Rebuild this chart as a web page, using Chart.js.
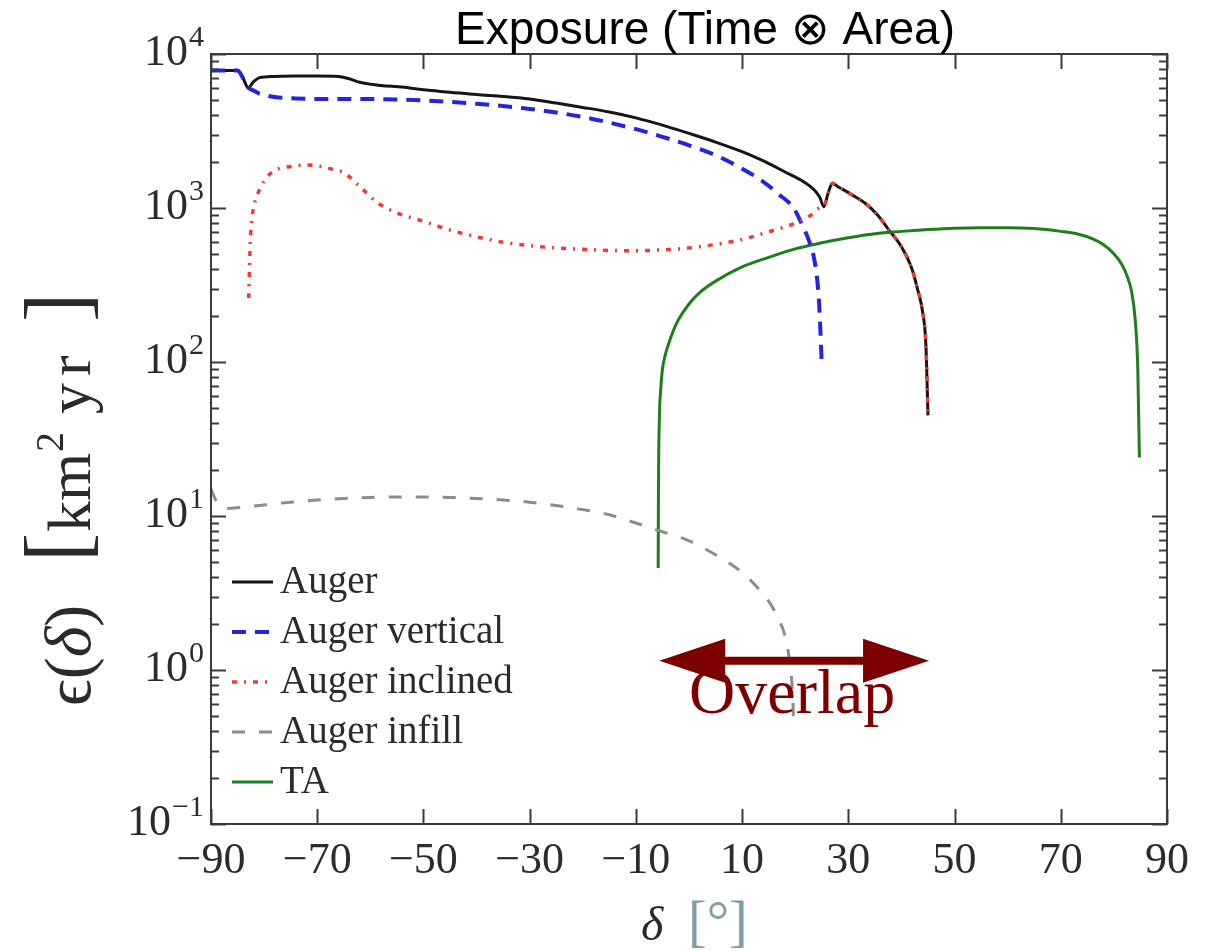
<!DOCTYPE html>
<html>
<head>
<meta charset="utf-8">
<title>Exposure (Time ⊗ Area)</title>
<script src="https://cdn.jsdelivr.net/npm/chart.js@4/dist/chart.umd.min.js"></script>
<style>
  html, body { margin: 0; padding: 0; background: #ffffff; }
  #wrap { width: 1212px; height: 951px; }
</style>
</head>
<body>
<div id="wrap"><canvas id="c" width="1212" height="951"></canvas></div>
<script>
// Declination grid (degrees) and exposure (km^2 yr) for each observatory curve
const augerDec = [-90,-85,-84,-83,-82,-81,-78,-74,-70,-66,-64,-62,-58,-54,-50,-45,-40,-35,-30,-25,-20,-15,-10,-5,0,5,10,14,18,21.6,23.5,24.6,25.4,26.2,27,28,30.4,33.3,35.5,37.5,40,42,43,44,44.6,45];
const augerVal = [7800,7800,7000,6050,6600,7000,7150,7200,7200,7150,6900,6550,6250,6100,5850,5650,5450,5300,5100,4800,4500,4200,3850,3450,3050,2680,2320,2020,1720,1480,1320,1180,1020,1250,1450,1380,1235,1065,900,730,560,400,300,210,130,45];

const verticalDec = [-90,-85,-84,-83,-82,-81,-78,-74,-70,-60,-50,-40,-30,-20,-10,-5,0,5,10,14,17,19.7,21,22.6,23.5,24.1,24.5,25];
const verticalVal = [7800,7800,7000,6050,5800,5550,5250,5150,5100,5100,5000,4750,4400,3900,3250,2900,2550,2200,1800,1480,1220,1000,820,612,480,352,240,98];

const inclinedDec = [-82.9,-82.6,-82.2,-81.2,-80,-78,-75,-72,-70,-67,-65,-62,-58.6,-55,-50,-45,-40,-35,-30,-25,-20,-15,-10,-5,0,5,10,15,19.7,23,24.6,25.4,26.2,27,28,30.4,33.3,35.5,37.5,40,42,43,44,44.6,45];
const inclinedVal = [260,600,900,1230,1500,1750,1860,1900,1880,1780,1700,1380,1080,930,820,720,650,600,570,550,540,530,528,535,550,580,625,700,790,900,1000,1020,1250,1450,1380,1235,1065,900,730,560,400,300,210,130,45];

const infillDec = [-90,-89,-87,-85,-80,-75,-70,-65,-60,-55,-50,-45,-40,-35,-30,-25,-20,-15,-10,-5,0,5,10,13,15,17,18,19,19.5,19.7];
const infillVal = [15,12.5,11.2,11.3,11.8,12.3,12.7,13,13.2,13.3,13.3,13.2,13,12.7,12.3,11.7,11,10.2,9,7.9,6.9,5.6,4.3,3.4,2.8,2.1,1.7,1.1,0.7,0.45];

const taDec = [-5.8,-5.75,-5.6,-5.3,-5,-4.5,-4,-3,-2,0,2,5,10,15,20,25,30,35,40,45,50,55,60,65,70,73,76,78,80,81.5,82.5,83.3,84,84.5,84.8];
const taVal = [4.6,15,40,68,90,110,126,158,188,238,282,335,415,478,543,594,640,680,705,725,740,745,745,735,705,680,630,580,505,430,360,290,190,90,24];

// Axis ticks
const xTickValues = [-90,-70,-50,-30,-10,10,30,50,70,90];
const xTickLabels = ['\u221290','\u221270','\u221250','\u221230','\u221210','10','30','50','70','90'];
const yTickPowers = [-1,0,1,2,3,4];
const yTickExpLabels = ['\u22121','0','1','2','3','4'];

// Overlap band between the two hemispheres' coverage
const overlapFrom = -5.6;
const overlapTo = 45.2;
const overlapLevel = 1.15;

const seriesLabels = ['Auger','Auger vertical','Auger inclined','Auger infill','TA'];

function pts(xs, ys) { return xs.map((x, i) => ({ x: x, y: ys[i] })); }

const SERIF = '"Liberation Serif", "DejaVu Serif", serif';

const decor = {
  id: 'decor',
  afterDatasetsDraw(chart) {
    const ctx = chart.ctx;
    const a = chart.chartArea;
    const xs = chart.scales.x, ys = chart.scales.y;
    ctx.save();

    // frame
    ctx.strokeStyle = '#3a3a3a';
    ctx.lineWidth = 2;
    ctx.strokeRect(a.left, a.top, a.right - a.left, a.bottom - a.top);

    // x ticks (inward, bottom and top)
    ctx.beginPath();
    xTickValues.forEach(v => {
      const px = Math.round(xs.getPixelForValue(v)) + 0.5;
      ctx.moveTo(px, a.bottom); ctx.lineTo(px, a.bottom - 15);
      ctx.moveTo(px, a.top); ctx.lineTo(px, a.top + 15);
    });
    ctx.stroke();

    // y ticks: major at decades, minor at 2..9
    ctx.beginPath();
    yTickPowers.forEach(p => {
      for (let k = 1; k <= 9; k++) {
        const v = k * Math.pow(10, p);
        if (v > ys.max * 1.0001) break;
        const py = Math.round(ys.getPixelForValue(v)) + 0.5;
        const len = k === 1 ? 15 : 8;
        ctx.moveTo(a.left, py); ctx.lineTo(a.left + len, py);
        ctx.moveTo(a.right, py); ctx.lineTo(a.right - len, py);
      }
    });
    ctx.stroke();

    // x tick labels
    ctx.fillStyle = '#2b2b2b';
    ctx.font = '44px ' + SERIF;
    ctx.textAlign = 'center';
    ctx.textBaseline = 'alphabetic';
    xTickValues.forEach((v, i) => {
      ctx.fillText(xTickLabels[i], xs.getPixelForValue(v), 873);
    });

    // y tick labels 10^n
    ctx.textAlign = 'left';
    yTickPowers.forEach((p, i) => {
      const py = ys.getPixelForValue(Math.pow(10, p));
      ctx.font = '44px ' + SERIF;
      const w1 = ctx.measureText('10').width;
      ctx.font = '30px ' + SERIF;
      const w2 = ctx.measureText(yTickExpLabels[i]).width;
      const x0 = 203 - w1 - w2;
      ctx.font = '44px ' + SERIF;
      ctx.fillText('10', x0, py + 11);
      ctx.font = '30px ' + SERIF;
      ctx.fillText(yTickExpLabels[i], x0 + w1 + 1, py - 8);
    });

    // x axis title
    ctx.font = 'italic 48px ' + SERIF;
    ctx.fillStyle = '#2b2b2b';
    ctx.fillText('\u03B4', 641, 940);
    ctx.font = '56px ' + SERIF;
    ctx.fillStyle = '#7f9fa6';
    ctx.fillText('[\u00B0]', 688, 940);

    // y axis title (rotated, reads bottom to top)
    const base = 706;
    ctx.save();
    ctx.translate(90, base);
    ctx.rotate(-Math.PI / 2);
    ctx.fillStyle = '#2b2b2b';
    let tx = 0;
    const seq = (t, font) => { ctx.font = font; ctx.fillText(t, tx, 0); tx += ctx.measureText(t).width; };
    seq('\u03F5', '66px ' + SERIF);
    seq('(', '66px ' + SERIF);
    seq('\u03B4', 'italic 66px ' + SERIF);
    seq(')', '66px ' + SERIF);
    const at = (t, font, screenY, dy) => { ctx.font = font; ctx.fillText(t, base - screenY, dy); };
    at('[', '88px ' + SERIF, 562, -4);
    at('km', '62px ' + SERIF, 532, 0);
    at('2', '40px ' + SERIF, 452, -27);
    at('y', '62px ' + SERIF, 414, 0);
    at('r', '62px ' + SERIF, 376, 0);
    at(']', '88px ' + SERIF, 322, -4);
    ctx.restore();

    // title
    ctx.fillStyle = '#000000';
    ctx.font = '46px "Liberation Sans", Arial, sans-serif';
    ctx.textAlign = 'center';
    ctx.fillText('Exposure (Time \u2297 Area)', 705, 44);

    // legend
    ctx.textAlign = 'left';
    ctx.textBaseline = 'middle';
    chart.data.datasets.forEach((ds, i) => {
      const ly = 582 + i * 50;
      ctx.save();
      ctx.strokeStyle = ds.borderColor;
      ctx.lineWidth = ds.borderWidth;
      ctx.setLineDash(ds.borderDash || []);
      ctx.beginPath();
      ctx.moveTo(232, ly); ctx.lineTo(273, ly);
      ctx.stroke();
      ctx.restore();
      ctx.fillStyle = '#2b2b2b';
      ctx.font = '39px ' + SERIF;
      ctx.fillText(ds.label, 280, ly + 1);
    });

    // overlap arrow
    const ax0 = xs.getPixelForValue(overlapFrom);
    const ax1 = xs.getPixelForValue(overlapTo);
    const ay = ys.getPixelForValue(overlapLevel);
    const head = 66, half = 22, shaft = 4;
    ctx.fillStyle = '#7d0000';
    ctx.beginPath();
    ctx.moveTo(ax0, ay);
    ctx.lineTo(ax0 + head, ay - half);
    ctx.lineTo(ax0 + head, ay - shaft);
    ctx.lineTo(ax1 - head, ay - shaft);
    ctx.lineTo(ax1 - head, ay - half);
    ctx.lineTo(ax1, ay);
    ctx.lineTo(ax1 - head, ay + half);
    ctx.lineTo(ax1 - head, ay + shaft);
    ctx.lineTo(ax0 + head, ay + shaft);
    ctx.lineTo(ax0 + head, ay + half);
    ctx.closePath();
    ctx.fill();

    ctx.font = '64px "Liberation Serif", "Times New Roman", serif';
    ctx.textBaseline = 'alphabetic';
    ctx.fillText('Overlap', 689, 713);

    ctx.restore();
  }
};

const chart = new Chart(document.getElementById('c'), {
  type: 'line',
  data: {
    datasets: [
      { label: seriesLabels[0], data: pts(augerDec, augerVal), borderColor: '#151515', borderWidth: 3, order: 5 },
      { label: seriesLabels[1], data: pts(verticalDec, verticalVal), borderColor: '#2424e0', borderWidth: 4, borderDash: [14, 9], order: 2 },
      { label: seriesLabels[2], data: pts(inclinedDec, inclinedVal), borderColor: '#f03a3a', borderWidth: 3.5, borderDash: [5, 7, 2, 7], order: 1 },
      { label: seriesLabels[3], data: pts(infillDec, infillVal), borderColor: '#8c8c8c', borderWidth: 3, borderDash: [13, 14], order: 3 },
      { label: seriesLabels[4], data: pts(taDec, taVal), borderColor: '#1e7e1e', borderWidth: 3, order: 4 }
    ]
  },
  options: {
    responsive: false,
    animation: false,
    devicePixelRatio: 1,
    layout: { padding: { left: 211, top: 54, right: 45, bottom: 127 } },
    elements: {
      point: { radius: 0, hoverRadius: 0 },
      line: { fill: false, cubicInterpolationMode: 'monotone' }
    },
    plugins: { legend: { display: false }, tooltip: { enabled: false }, title: { display: false } },
    scales: {
      x: {
        type: 'linear', min: -90, max: 90,
        grid: { display: false }, border: { display: false },
        ticks: { display: false },
        afterFit(s) { s.height = 0; }
      },
      y: {
        type: 'logarithmic', min: 0.1, max: 10000,
        grid: { display: false }, border: { display: false },
        ticks: { display: false },
        afterFit(s) { s.width = 0; }
      }
    }
  },
  plugins: [decor]
});
</script>
</body>
</html>
